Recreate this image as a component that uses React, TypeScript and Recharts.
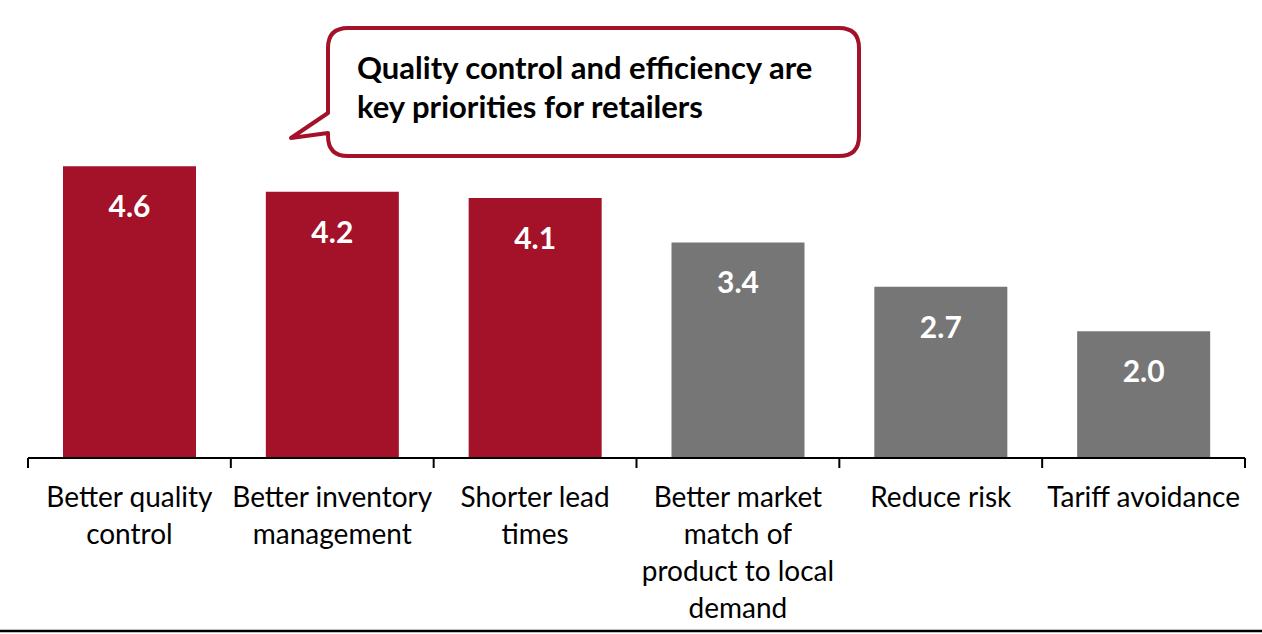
import React from 'react';
import { BarChart, Bar, XAxis, YAxis, Cell, LabelList } from 'recharts';

const categories = [
  'Better quality\ncontrol',
  'Better inventory\nmanagement',
  'Shorter lead\ntimes',
  'Better market\nmatch of\nproduct to local\ndemand',
  'Reduce risk',
  'Tariff avoidance',
];
const values = [4.6, 4.2, 4.1, 3.4, 2.7, 2.0];
const highlighted = [true, true, true, false, false, false];
const calloutLines = ['Quality control and efficiency are', 'key priorities for retailers'];

const RED = '#A31228';
const GRAY = '#767676';
const FONT = "Lato, 'Open Sans', sans-serif";

const data = categories.map((c, i) => ({ name: c, value: values[i] }));

const CategoryTick = (props: any) => {
  const { x, y, payload, index, visibleTicksCount } = props;
  const half = payload && payload.offset ? payload.offset : 101.4;
  const lines = String(payload.value).split('\n');
  const isLast = index === visibleTicksCount - 1;
  return (
    <g>
      <line x1={x - half} x2={x - half} y1={y} y2={y + 10} stroke="#000" strokeWidth={2} />
      {isLast && <line x1={x + half} x2={x + half} y1={y} y2={y + 10} stroke="#000" strokeWidth={2} />}
      <text x={x} y={y} textAnchor="middle" fontFamily={FONT} fontSize={28} fill="#000">
        {lines.map((l, i) => (
          <tspan key={i} x={x} y={y + 49 + i * 37}>
            {l}
          </tspan>
        ))}
      </text>
    </g>
  );
};

const ValueLabel = (props: any) => {
  const { x, y, width, value } = props;
  return (
    <text
      x={x + width / 2}
      y={y + 39}
      textAnchor="middle"
      dominantBaseline="central"
      fontFamily={FONT}
      fontWeight={700}
      fontSize={30}
      fill="#fff"
    >
      {Number(value).toFixed(1)}
    </text>
  );
};

const x0 = 328, y0 = 28, x1 = 859, y1 = 156, r = 20;
const calloutPath = `M ${x0 + r} ${y0} H ${x1 - r} Q ${x1} ${y0} ${x1} ${y0 + r} V ${y1 - r} Q ${x1} ${y1} ${x1 - r} ${y1} H ${x0 + r} Q ${x0} ${y1} ${x0} ${y1 - r} V 133 L 291 138 L ${x0} 113 V ${y0 + r} Q ${x0} ${y0} ${x0 + r} ${y0} Z`;

export default function App() {
  return (
    <div style={{ position: 'absolute', left: 0, top: 0, width: 1262, height: 634, background: '#fff' }}>
      <BarChart
        width={1262}
        height={634}
        data={data}
        margin={{ top: 141, right: 17, left: 28, bottom: 26 }}
      >
        <YAxis hide domain={[0, 5]} />
        <XAxis
          dataKey="name"
          height={150}
          interval={0}
          tickSize={0}
          tickMargin={0}
          tickLine={false}
          axisLine={{ stroke: '#000', strokeWidth: 2 }}
          tick={<CategoryTick />}
        />
        <Bar dataKey="value" barSize={133} isAnimationActive={false}>
          {data.map((d, i) => (
            <Cell key={i} fill={highlighted[i] ? RED : GRAY} />
          ))}
          <LabelList dataKey="value" content={<ValueLabel />} />
        </Bar>
      </BarChart>
      <svg width={1262} height={634} style={{ position: 'absolute', left: 0, top: 0, pointerEvents: 'none' }}>
        <path d={calloutPath} fill="#fff" stroke={RED} strokeWidth={4} strokeLinejoin="round" />
        {calloutLines.map((l, i) => (
          <text key={i} x={357} y={79 + i * 39} fontFamily={FONT} fontWeight={700} fontSize={31} fill="#000">
            {l}
          </text>
        ))}
        <line x1={0} x2={1262} y1={631} y2={631} stroke="#000" strokeWidth={2.5} />
      </svg>
    </div>
  );
}
